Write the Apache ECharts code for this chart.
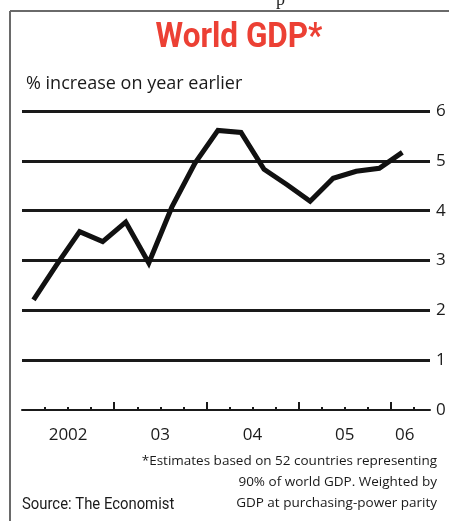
<!DOCTYPE html>
<html>
<head>
<meta charset="utf-8">
<script src="https://cdn.jsdelivr.net/npm/echarts@6/dist/echarts.min.js"></script>
<style>
html,body{margin:0;padding:0;background:#fff;}
#chart{width:449px;height:521px;}
</style>
</head>
<body>
<div id="chart"></div>
<script>
// Quarterly world GDP growth, Q1 2002 .. Q1 2006 (% increase on year earlier)
const quarters = ["2002Q1","2002Q2","2002Q3","2002Q4","2003Q1","2003Q2","2003Q3","2003Q4",
                  "2004Q1","2004Q2","2004Q3","2004Q4","2005Q1","2005Q2","2005Q3","2005Q4","2006Q1"];
const gdpGrowth = [2.21, 2.91, 3.58, 3.38, 3.77, 2.95, 4.07, 4.95,
                   5.61, 5.57, 4.83, 4.52, 4.19, 4.65, 4.79, 4.85, 5.17];
const yTicks = [0, 1, 2, 3, 4, 5, 6];
const yearLabels = ["2002", "03", "04", "05", "06"];
const yearLabelPos = [2, 6, 10, 14, 16.6];
const majorTicks = [4, 8, 12, 16];
const minorTicks = [1, 2, 3, 5, 6, 7, 9, 10, 11, 13, 14, 15, 17];

const seriesData = gdpGrowth.map((v, i) => [i + 0.5, v]);

const chart = echarts.init(document.getElementById('chart'), null, {renderer: 'canvas'});
const labelFont = "'Open Sans', 'DejaVu Sans', sans-serif";
chart.setOption({
  backgroundColor: '#ffffff',
  animation: false,
  title: [
    {
      text: '% increase on year earlier',
      left: 21,
      top: 70,
      textStyle: {fontFamily: labelFont, fontWeight: 'normal', fontSize: 18, color: '#1a1a1a'}
    }
  ],
  grid: {left: 22, right: 19, top: 111, bottom: 111},
  xAxis: [
    {
      type: 'value', min: 0, max: 17.7, position: 'bottom',
      axisLine: {show: true, onZero: false, lineStyle: {color: '#1a1a1a', width: 2}},
      axisTick: {show: true, inside: true, length: 8, customValues: majorTicks, lineStyle: {color: '#1a1a1a', width: 2}},
      axisLabel: {
        show: true, customValues: yearLabelPos, margin: 17,
        formatter: (v) => yearLabels[yearLabelPos.indexOf(v)] || '',
        fontFamily: labelFont, fontSize: 17, color: '#1a1a1a'
      },
      splitLine: {show: false}
    },
    {
      type: 'value', min: 0, max: 17.7, position: 'bottom',
      axisLine: {show: false},
      axisTick: {show: true, inside: true, length: 3, customValues: minorTicks, lineStyle: {color: '#1a1a1a', width: 2}},
      axisLabel: {show: false},
      splitLine: {show: false}
    }
  ],
  yAxis: {
    type: 'value', min: yTicks[0], max: yTicks[yTicks.length - 1], interval: 1, position: 'right',
    axisLine: {show: false}, axisTick: {show: false},
    axisLabel: {margin: 6, fontFamily: labelFont, fontSize: 17, color: '#1a1a1a'},
    splitLine: {show: true, showMinLine: false, lineStyle: {color: '#1a1a1a', width: 3}}
  },
  series: [{
    type: 'line',
    xAxisIndex: 0,
    data: seriesData,
    symbol: 'none',
    lineStyle: {color: '#111111', width: 5, cap: 'butt', join: 'miter'},
    z: 5
  }],
  graphic: [
    {type: 'line', shape: {x1: 10, y1: 11, x2: 449, y2: 11}, style: {stroke: '#6a6a6a', lineWidth: 2}},
    {type: 'line', shape: {x1: 10, y1: 11, x2: 10, y2: 521}, style: {stroke: '#6a6a6a', lineWidth: 2}},
    {type: 'text', x: 276, y: -9, style: {text: 'p', font: "18px 'Liberation Serif', serif", fill: '#222'}},
    {type: 'text', x: 239, y: 38, scaleX: 0.9, originX: 0, originY: 0, style: {
      text: 'World GDP*', font: "bold 35px Roboto, sans-serif", fill: '#ec4034',
      align: 'center', verticalAlign: 'middle'}},
    {type: 'text', x: 437, y: 451, style: {
      text: '*Estimates based on 52 countries representing\n90% of world GDP. Weighted by\nGDP at purchasing-power parity',
      font: "13.5px 'Open Sans', sans-serif", fill: '#1a1a1a', align: 'right', lineHeight: 21}},
    {type: 'text', x: 22, y: 505, scaleX: 0.9, originX: 0, originY: 0, style: {
      text: 'Source: The Economist', font: "16.5px Roboto, sans-serif", fill: '#1a1a1a',
      align: 'left', verticalAlign: 'middle'}}
  ]
});
</script>
</body>
</html>
